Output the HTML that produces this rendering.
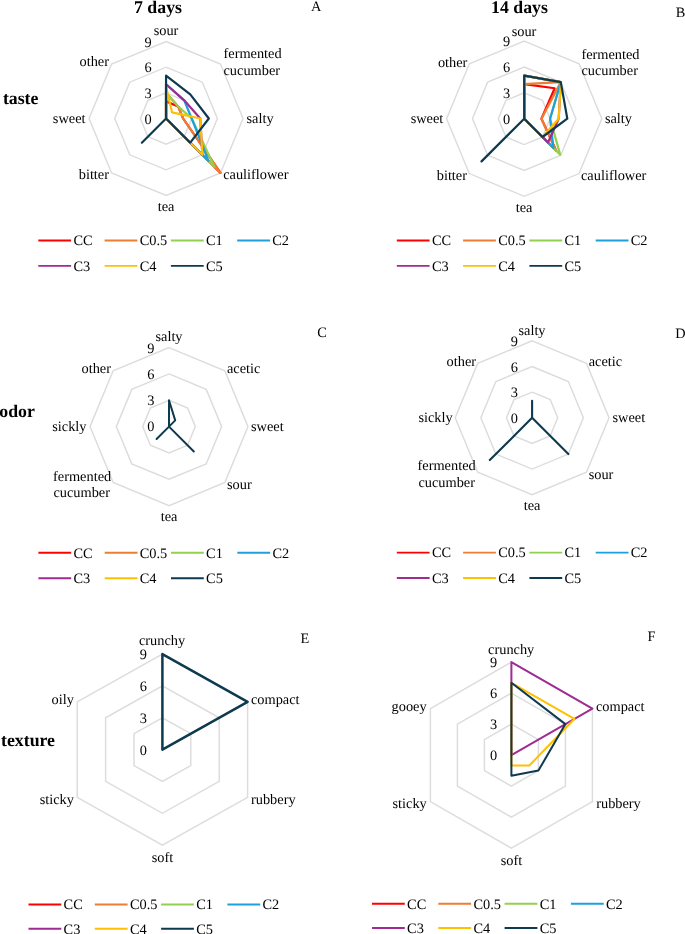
<!DOCTYPE html>
<html><head><meta charset="utf-8"><title>Sensory radar charts</title>
<style>html,body{margin:0;padding:0;background:#fff;overflow:hidden;}svg{display:block;will-change:transform;}text{text-rendering:geometricPrecision;}text{font-family:"Liberation Serif",serif;fill:#000;}</style></head><body>
<svg width="685" height="934" viewBox="0 0 685 934">
<rect width="685" height="934" fill="#ffffff"/>
<g>
<polygon points="166.05,92.83 184.20,100.35 191.72,118.50 184.20,136.65 166.05,144.17 147.90,136.65 140.38,118.50 147.90,100.35" fill="none" stroke="#dcdcdc" stroke-width="1.45"/>
<polygon points="166.05,67.17 202.35,82.20 217.38,118.50 202.35,154.80 166.05,169.83 129.75,154.80 114.72,118.50 129.75,82.20" fill="none" stroke="#dcdcdc" stroke-width="1.45"/>
<polygon points="166.05,41.50 220.50,64.05 243.05,118.50 220.50,172.95 166.05,195.50 111.60,172.95 89.05,118.50 111.60,64.05" fill="none" stroke="#dcdcdc" stroke-width="1.45"/>
<polygon points="166.05,101.39 178.15,106.40 183.16,118.50 220.50,172.95 166.05,118.50 166.05,118.50 166.05,118.50 166.05,118.50" fill="none" stroke="#ff0000" stroke-width="2.2" stroke-linejoin="round"/>
<polygon points="166.05,92.83 178.15,106.40 183.16,118.50 220.50,172.95 166.05,118.50 166.05,118.50 166.05,118.50 166.05,118.50" fill="none" stroke="#ed7d31" stroke-width="2.2" stroke-linejoin="round"/>
<polygon points="166.05,92.83 178.15,106.40 191.72,118.50 214.45,166.90 166.05,118.50 166.05,118.50 166.05,118.50 166.05,118.50" fill="none" stroke="#92d050" stroke-width="2.2" stroke-linejoin="round"/>
<polygon points="166.05,84.28 184.20,100.35 191.72,118.50 208.40,160.85 166.05,118.50 166.05,118.50 166.05,118.50 166.05,118.50" fill="none" stroke="#1ea0dc" stroke-width="2.2" stroke-linejoin="round"/>
<polygon points="166.05,84.28 184.20,100.35 200.27,118.50 202.35,154.80 166.05,118.50 166.05,118.50 166.05,118.50 166.05,118.50" fill="none" stroke="#a02b93" stroke-width="2.2" stroke-linejoin="round"/>
<polygon points="166.05,86.84 172.10,112.45 200.27,118.50 202.35,154.80 166.05,118.50 166.05,118.50 166.05,118.50 166.05,118.50" fill="none" stroke="#ffc000" stroke-width="2.2" stroke-linejoin="round"/>
<polygon points="166.05,75.72 190.25,94.30 208.83,118.50 190.25,142.70 166.05,118.50 141.85,142.70 166.05,118.50 166.05,118.50" fill="none" stroke="#0e3a4f" stroke-width="2.2" stroke-linejoin="round"/>
<text x="166" y="34.9" text-anchor="middle" font-size="14.35">sour</text>
<text x="223.5" y="58.0" text-anchor="start" font-size="14.35">fermented</text>
<text x="223.5" y="75.0" text-anchor="start" font-size="14.35">cucumber</text>
<text x="246.5" y="122.8" text-anchor="start" font-size="14.35">salty</text>
<text x="223.2" y="179.3" text-anchor="start" font-size="14.35">cauliflower</text>
<text x="166" y="211" text-anchor="middle" font-size="14.35">tea</text>
<text x="109" y="179.2" text-anchor="end" font-size="14.35">bitter</text>
<text x="85.5" y="123" text-anchor="end" font-size="14.35">sweet</text>
<text x="109" y="66" text-anchor="end" font-size="14.35">other</text>
<text x="151.6" y="123.5" text-anchor="end" font-size="14.35">0</text>
<text x="151.6" y="97.9" text-anchor="end" font-size="14.35">3</text>
<text x="151.6" y="72.2" text-anchor="end" font-size="14.35">6</text>
<text x="151.6" y="46.6" text-anchor="end" font-size="14.35">9</text>
<line x1="38.3" y1="240.5" x2="71.1" y2="240.5" stroke="#ff0000" stroke-width="1.9"/>
<text x="73.4" y="245.3" font-size="14.35">CC</text>
<line x1="104.6" y1="240.5" x2="137.4" y2="240.5" stroke="#ed7d31" stroke-width="1.9"/>
<text x="139.7" y="245.3" font-size="14.35">C0.5</text>
<line x1="170.9" y1="240.5" x2="203.7" y2="240.5" stroke="#92d050" stroke-width="1.9"/>
<text x="206.0" y="245.3" font-size="14.35">C1</text>
<line x1="237.2" y1="240.5" x2="270.0" y2="240.5" stroke="#1ea0dc" stroke-width="1.9"/>
<text x="272.3" y="245.3" font-size="14.35">C2</text>
<line x1="38.3" y1="265.9" x2="71.1" y2="265.9" stroke="#a02b93" stroke-width="1.9"/>
<text x="73.4" y="270.7" font-size="14.35">C3</text>
<line x1="104.6" y1="265.9" x2="137.4" y2="265.9" stroke="#ffc000" stroke-width="1.9"/>
<text x="139.7" y="270.7" font-size="14.35">C4</text>
<line x1="170.9" y1="265.9" x2="203.7" y2="265.9" stroke="#0e3a4f" stroke-width="1.9"/>
<text x="206.0" y="270.7" font-size="14.35">C5</text>
</g>
<g>
<polygon points="524.20,92.83 542.49,100.41 550.07,118.70 542.49,136.99 524.20,144.57 505.91,136.99 498.33,118.70 505.91,100.41" fill="none" stroke="#dcdcdc" stroke-width="1.45"/>
<polygon points="524.20,66.97 560.78,82.12 575.93,118.70 560.78,155.28 524.20,170.43 487.62,155.28 472.47,118.70 487.62,82.12" fill="none" stroke="#dcdcdc" stroke-width="1.45"/>
<polygon points="524.20,41.10 579.07,63.83 601.80,118.70 579.07,173.57 524.20,196.30 469.33,173.57 446.60,118.70 469.33,63.83" fill="none" stroke="#dcdcdc" stroke-width="1.45"/>
<polygon points="524.20,84.21 554.68,88.22 541.44,118.70 556.21,150.71 524.20,118.70 524.20,118.70 524.20,118.70 524.20,118.70" fill="none" stroke="#ff0000" stroke-width="2.2" stroke-linejoin="round"/>
<polygon points="524.20,84.21 560.78,82.12 541.44,118.70 556.21,150.71 524.20,118.70 524.20,118.70 524.20,118.70 524.20,118.70" fill="none" stroke="#ed7d31" stroke-width="2.2" stroke-linejoin="round"/>
<polygon points="524.20,75.59 560.78,82.12 550.07,118.70 560.17,154.67 524.20,118.70 524.20,118.70 524.20,118.70 524.20,118.70" fill="none" stroke="#92d050" stroke-width="2.2" stroke-linejoin="round"/>
<polygon points="524.20,75.59 560.78,82.12 550.07,118.70 553.46,147.96 524.20,118.70 524.20,118.70 524.20,118.70 524.20,118.70" fill="none" stroke="#1ea0dc" stroke-width="2.2" stroke-linejoin="round"/>
<polygon points="524.20,75.59 560.78,82.12 558.69,118.70 547.98,142.48 524.20,118.70 524.20,118.70 524.20,118.70 524.20,118.70" fill="none" stroke="#a02b93" stroke-width="2.2" stroke-linejoin="round"/>
<polygon points="524.20,75.59 560.78,82.12 558.69,118.70 542.49,136.99 524.20,118.70 524.20,118.70 524.20,118.70 524.20,118.70" fill="none" stroke="#ffc000" stroke-width="2.2" stroke-linejoin="round"/>
<polygon points="524.20,75.59 560.78,82.12 567.31,118.70 542.49,136.99 524.20,118.70 481.52,161.38 524.20,118.70 524.20,118.70" fill="none" stroke="#0e3a4f" stroke-width="2.2" stroke-linejoin="round"/>
<text x="524" y="35.5" text-anchor="middle" font-size="14.35">sour</text>
<text x="581.4" y="58.6" text-anchor="start" font-size="14.35">fermented</text>
<text x="581.4" y="75.4" text-anchor="start" font-size="14.35">cucumber</text>
<text x="604.9" y="123" text-anchor="start" font-size="14.35">salty</text>
<text x="581" y="179.9" text-anchor="start" font-size="14.35">cauliflower</text>
<text x="524" y="212" text-anchor="middle" font-size="14.35">tea</text>
<text x="467" y="180.2" text-anchor="end" font-size="14.35">bitter</text>
<text x="443.3" y="123.2" text-anchor="end" font-size="14.35">sweet</text>
<text x="467.4" y="66.8" text-anchor="end" font-size="14.35">other</text>
<text x="510.2" y="123.8" text-anchor="end" font-size="14.35">0</text>
<text x="510.2" y="98" text-anchor="end" font-size="14.35">3</text>
<text x="510.2" y="72.2" text-anchor="end" font-size="14.35">6</text>
<text x="510.2" y="46.4" text-anchor="end" font-size="14.35">9</text>
<line x1="396.8" y1="240.5" x2="429.6" y2="240.5" stroke="#ff0000" stroke-width="1.9"/>
<text x="431.9" y="245.3" font-size="14.35">CC</text>
<line x1="463.1" y1="240.5" x2="495.9" y2="240.5" stroke="#ed7d31" stroke-width="1.9"/>
<text x="498.2" y="245.3" font-size="14.35">C0.5</text>
<line x1="529.4" y1="240.5" x2="562.2" y2="240.5" stroke="#92d050" stroke-width="1.9"/>
<text x="564.5" y="245.3" font-size="14.35">C1</text>
<line x1="595.7" y1="240.5" x2="628.5" y2="240.5" stroke="#1ea0dc" stroke-width="1.9"/>
<text x="630.8" y="245.3" font-size="14.35">C2</text>
<line x1="396.8" y1="265.9" x2="429.6" y2="265.9" stroke="#a02b93" stroke-width="1.9"/>
<text x="431.9" y="270.7" font-size="14.35">C3</text>
<line x1="463.1" y1="265.9" x2="495.9" y2="265.9" stroke="#ffc000" stroke-width="1.9"/>
<text x="498.2" y="270.7" font-size="14.35">C4</text>
<line x1="529.4" y1="265.9" x2="562.2" y2="265.9" stroke="#0e3a4f" stroke-width="1.9"/>
<text x="564.5" y="270.7" font-size="14.35">C5</text>
</g>
<g>
<polygon points="169.00,400.27 187.62,407.98 195.33,426.60 187.62,445.22 169.00,452.93 150.38,445.22 142.67,426.60 150.38,407.98" fill="none" stroke="#dcdcdc" stroke-width="1.45"/>
<polygon points="169.00,373.93 206.24,389.36 221.67,426.60 206.24,463.84 169.00,479.27 131.76,463.84 116.33,426.60 131.76,389.36" fill="none" stroke="#dcdcdc" stroke-width="1.45"/>
<polygon points="169.00,347.60 224.86,370.74 248.00,426.60 224.86,482.46 169.00,505.60 113.14,482.46 90.00,426.60 113.14,370.74" fill="none" stroke="#dcdcdc" stroke-width="1.45"/>
<polygon points="169.00,400.27 175.21,420.39 169.00,426.60 193.83,451.43 169.00,426.60 156.59,439.01 169.00,426.60 169.00,426.60" fill="none" stroke="#0e3a4f" stroke-width="2.0" stroke-linejoin="round"/>
<text x="169" y="340.5" text-anchor="middle" font-size="14.35">salty</text>
<text x="227" y="373.2" text-anchor="start" font-size="14.35">acetic</text>
<text x="251" y="430.5" text-anchor="start" font-size="14.35">sweet</text>
<text x="227" y="488.5" text-anchor="start" font-size="14.35">sour</text>
<text x="169" y="520.7" text-anchor="middle" font-size="14.35">tea</text>
<text x="111.2" y="480.7" text-anchor="end" font-size="14.35">fermented</text>
<text x="110" y="497.2" text-anchor="end" font-size="14.35">cucumber</text>
<text x="86.5" y="431" text-anchor="end" font-size="14.35">sickly</text>
<text x="111" y="373.2" text-anchor="end" font-size="14.35">other</text>
<text x="154.4" y="430.5" text-anchor="end" font-size="14.35">0</text>
<text x="154.4" y="404.5" text-anchor="end" font-size="14.35">3</text>
<text x="154.4" y="378.5" text-anchor="end" font-size="14.35">6</text>
<text x="154.4" y="352.5" text-anchor="end" font-size="14.35">9</text>
<line x1="38.4" y1="552.8" x2="71.2" y2="552.8" stroke="#ff0000" stroke-width="1.9"/>
<text x="73.5" y="557.6" font-size="14.35">CC</text>
<line x1="104.7" y1="552.8" x2="137.5" y2="552.8" stroke="#ed7d31" stroke-width="1.9"/>
<text x="139.8" y="557.6" font-size="14.35">C0.5</text>
<line x1="171.0" y1="552.8" x2="203.8" y2="552.8" stroke="#92d050" stroke-width="1.9"/>
<text x="206.1" y="557.6" font-size="14.35">C1</text>
<line x1="237.3" y1="552.8" x2="270.1" y2="552.8" stroke="#1ea0dc" stroke-width="1.9"/>
<text x="272.4" y="557.6" font-size="14.35">C2</text>
<line x1="38.4" y1="578.2" x2="71.2" y2="578.2" stroke="#a02b93" stroke-width="1.9"/>
<text x="73.5" y="583.0" font-size="14.35">C3</text>
<line x1="104.7" y1="578.2" x2="137.5" y2="578.2" stroke="#ffc000" stroke-width="1.9"/>
<text x="139.8" y="583.0" font-size="14.35">C4</text>
<line x1="171.0" y1="578.2" x2="203.8" y2="578.2" stroke="#0e3a4f" stroke-width="1.9"/>
<text x="206.1" y="583.0" font-size="14.35">C5</text>
</g>
<g>
<polygon points="532.10,392.17 550.23,399.67 557.73,417.80 550.23,435.93 532.10,443.43 513.97,435.93 506.47,417.80 513.97,399.67" fill="none" stroke="#dcdcdc" stroke-width="1.45"/>
<polygon points="532.10,366.53 568.35,381.55 583.37,417.80 568.35,454.05 532.10,469.07 495.85,454.05 480.83,417.80 495.85,381.55" fill="none" stroke="#dcdcdc" stroke-width="1.45"/>
<polygon points="532.10,340.90 586.48,363.42 609.00,417.80 586.48,472.18 532.10,494.70 477.72,472.18 455.20,417.80 477.72,363.42" fill="none" stroke="#dcdcdc" stroke-width="1.45"/>
<polygon points="532.10,400.71 532.10,417.80 532.10,417.80 568.35,454.05 532.10,417.80 489.81,460.09 532.10,417.80 532.10,417.80" fill="none" stroke="#0e3a4f" stroke-width="2.1" stroke-linejoin="round"/>
<text x="532" y="334.7" text-anchor="middle" font-size="14.35">salty</text>
<text x="588.7" y="366" text-anchor="start" font-size="14.35">acetic</text>
<text x="612.5" y="422.4" text-anchor="start" font-size="14.35">sweet</text>
<text x="588.7" y="478.7" text-anchor="start" font-size="14.35">sour</text>
<text x="532" y="509.7" text-anchor="middle" font-size="14.35">tea</text>
<text x="475.7" y="469.8" text-anchor="end" font-size="14.35">fermented</text>
<text x="475" y="486.5" text-anchor="end" font-size="14.35">cucumber</text>
<text x="452.7" y="422" text-anchor="end" font-size="14.35">sickly</text>
<text x="476.1" y="366" text-anchor="end" font-size="14.35">other</text>
<text x="518" y="422.5" text-anchor="end" font-size="14.35">0</text>
<text x="518" y="397.2" text-anchor="end" font-size="14.35">3</text>
<text x="518" y="372" text-anchor="end" font-size="14.35">6</text>
<text x="518" y="346.2" text-anchor="end" font-size="14.35">9</text>
<line x1="396.8" y1="552.6" x2="429.6" y2="552.6" stroke="#ff0000" stroke-width="1.9"/>
<text x="431.9" y="557.4" font-size="14.35">CC</text>
<line x1="463.1" y1="552.6" x2="495.9" y2="552.6" stroke="#ed7d31" stroke-width="1.9"/>
<text x="498.2" y="557.4" font-size="14.35">C0.5</text>
<line x1="529.4" y1="552.6" x2="562.2" y2="552.6" stroke="#92d050" stroke-width="1.9"/>
<text x="564.5" y="557.4" font-size="14.35">C1</text>
<line x1="595.7" y1="552.6" x2="628.5" y2="552.6" stroke="#1ea0dc" stroke-width="1.9"/>
<text x="630.8" y="557.4" font-size="14.35">C2</text>
<line x1="396.8" y1="578.0" x2="429.6" y2="578.0" stroke="#a02b93" stroke-width="1.9"/>
<text x="431.9" y="582.8" font-size="14.35">C3</text>
<line x1="463.1" y1="578.0" x2="495.9" y2="578.0" stroke="#ffc000" stroke-width="1.9"/>
<text x="498.2" y="582.8" font-size="14.35">C4</text>
<line x1="529.4" y1="578.0" x2="562.2" y2="578.0" stroke="#0e3a4f" stroke-width="1.9"/>
<text x="564.5" y="582.8" font-size="14.35">C5</text>
</g>
<g>
<polygon points="162.40,717.77 190.80,733.68 190.80,765.52 162.40,781.43 134.00,765.52 134.00,733.68" fill="none" stroke="#dcdcdc" stroke-width="1.45"/>
<polygon points="162.40,685.93 219.20,717.77 219.20,781.43 162.40,813.27 105.60,781.43 105.60,717.77" fill="none" stroke="#dcdcdc" stroke-width="1.45"/>
<polygon points="162.40,654.10 247.60,701.85 247.60,797.35 162.40,845.10 77.20,797.35 77.20,701.85" fill="none" stroke="#dcdcdc" stroke-width="1.45"/>
<polygon points="162.40,654.10 247.60,701.85 162.40,749.60 162.40,749.60 162.40,749.60 162.40,749.60" fill="none" stroke="#0e3a4f" stroke-width="2.5" stroke-linejoin="round"/>
<text x="162" y="645" text-anchor="middle" font-size="14.35">crunchy</text>
<text x="251" y="703.7" text-anchor="start" font-size="14.35">compact</text>
<text x="251" y="804.1" text-anchor="start" font-size="14.35">rubbery</text>
<text x="162.4" y="862" text-anchor="middle" font-size="14.35">soft</text>
<text x="73.9" y="804.1" text-anchor="end" font-size="14.35">sticky</text>
<text x="73.9" y="703.7" text-anchor="end" font-size="14.35">oily</text>
<text x="146.8" y="754.8" text-anchor="end" font-size="14.35">0</text>
<text x="146.8" y="722.9" text-anchor="end" font-size="14.35">3</text>
<text x="146.8" y="690.8" text-anchor="end" font-size="14.35">6</text>
<text x="146.8" y="658.8" text-anchor="end" font-size="14.35">9</text>
<line x1="28.5" y1="904.5" x2="61.3" y2="904.5" stroke="#ff0000" stroke-width="1.9"/>
<text x="63.6" y="909.3" font-size="14.35">CC</text>
<line x1="94.8" y1="904.5" x2="127.6" y2="904.5" stroke="#ed7d31" stroke-width="1.9"/>
<text x="129.9" y="909.3" font-size="14.35">C0.5</text>
<line x1="161.1" y1="904.5" x2="193.9" y2="904.5" stroke="#92d050" stroke-width="1.9"/>
<text x="196.2" y="909.3" font-size="14.35">C1</text>
<line x1="227.4" y1="904.5" x2="260.2" y2="904.5" stroke="#1ea0dc" stroke-width="1.9"/>
<text x="262.5" y="909.3" font-size="14.35">C2</text>
<line x1="28.5" y1="928.7" x2="61.3" y2="928.7" stroke="#a02b93" stroke-width="1.9"/>
<text x="63.6" y="933.5" font-size="14.35">C3</text>
<line x1="94.8" y1="928.7" x2="127.6" y2="928.7" stroke="#ffc000" stroke-width="1.9"/>
<text x="129.9" y="933.5" font-size="14.35">C4</text>
<line x1="161.1" y1="928.7" x2="193.9" y2="928.7" stroke="#0e3a4f" stroke-width="1.9"/>
<text x="196.2" y="933.5" font-size="14.35">C5</text>
</g>
<g>
<polygon points="511.40,724.10 538.40,739.60 538.40,770.60 511.40,786.10 484.40,770.60 484.40,739.60" fill="none" stroke="#dcdcdc" stroke-width="1.45"/>
<polygon points="511.40,693.10 565.40,724.10 565.40,786.10 511.40,817.10 457.40,786.10 457.40,724.10" fill="none" stroke="#dcdcdc" stroke-width="1.45"/>
<polygon points="511.40,662.10 592.40,708.60 592.40,801.60 511.40,848.10 430.40,801.60 430.40,708.60" fill="none" stroke="#dcdcdc" stroke-width="1.45"/>
<polygon points="511.40,662.10 592.40,708.60 511.40,755.10 511.40,755.10 511.40,755.10 511.40,755.10" fill="none" stroke="#a02b93" stroke-width="2.0" stroke-linejoin="round"/>
<polygon points="511.40,682.77 574.40,718.93 529.40,765.43 511.40,765.43 511.40,755.10 511.40,755.10" fill="none" stroke="#ffc000" stroke-width="2.0" stroke-linejoin="round"/>
<polygon points="511.40,682.77 565.40,724.10 538.40,770.60 511.40,775.77 511.40,755.10 511.40,755.10" fill="none" stroke="#0e3a4f" stroke-width="2.0" stroke-linejoin="round"/>
<text x="511.2" y="653.8" text-anchor="middle" font-size="14.35">crunchy</text>
<text x="596" y="711.4" text-anchor="start" font-size="14.35">compact</text>
<text x="596.2" y="808" text-anchor="start" font-size="14.35">rubbery</text>
<text x="511.5" y="865" text-anchor="middle" font-size="14.35">soft</text>
<text x="426.8" y="808" text-anchor="end" font-size="14.35">sticky</text>
<text x="426.6" y="711.3" text-anchor="end" font-size="14.35">gooey</text>
<text x="497.2" y="759.6" text-anchor="end" font-size="14.35">0</text>
<text x="497.2" y="728.6" text-anchor="end" font-size="14.35">3</text>
<text x="497.2" y="697.6" text-anchor="end" font-size="14.35">6</text>
<text x="497.2" y="666.5" text-anchor="end" font-size="14.35">9</text>
<line x1="372.0" y1="903.7" x2="404.8" y2="903.7" stroke="#ff0000" stroke-width="1.9"/>
<text x="407.1" y="908.5" font-size="14.35">CC</text>
<line x1="438.3" y1="903.7" x2="471.1" y2="903.7" stroke="#ed7d31" stroke-width="1.9"/>
<text x="473.4" y="908.5" font-size="14.35">C0.5</text>
<line x1="504.6" y1="903.7" x2="537.4" y2="903.7" stroke="#92d050" stroke-width="1.9"/>
<text x="539.7" y="908.5" font-size="14.35">C1</text>
<line x1="570.9" y1="903.7" x2="603.7" y2="903.7" stroke="#1ea0dc" stroke-width="1.9"/>
<text x="606.0" y="908.5" font-size="14.35">C2</text>
<line x1="372.0" y1="928.0" x2="404.8" y2="928.0" stroke="#a02b93" stroke-width="1.9"/>
<text x="407.1" y="932.8" font-size="14.35">C3</text>
<line x1="438.3" y1="928.0" x2="471.1" y2="928.0" stroke="#ffc000" stroke-width="1.9"/>
<text x="473.4" y="932.8" font-size="14.35">C4</text>
<line x1="504.6" y1="928.0" x2="537.4" y2="928.0" stroke="#0e3a4f" stroke-width="1.9"/>
<text x="539.7" y="932.8" font-size="14.35">C5</text>
</g>
<text x="158" y="12.6" text-anchor="middle" font-size="17.8" font-weight="bold">7 days</text>
<text x="519.5" y="12.5" text-anchor="middle" font-size="17.8" font-weight="bold">14 days</text>
<text x="2.9" y="104.1" text-anchor="start" font-size="17.8" font-weight="bold">taste</text>
<text x="-0.7" y="416.7" text-anchor="start" font-size="17.8" font-weight="bold">odor</text>
<text x="1" y="746.1" text-anchor="start" font-size="17.8" font-weight="bold">texture</text>
<text x="311" y="11" text-anchor="start" font-size="14.35" font-weight="normal">A</text>
<text x="675.7" y="17.2" text-anchor="start" font-size="14.35" font-weight="normal">B</text>
<text x="317.2" y="337.2" text-anchor="start" font-size="14.35" font-weight="normal">C</text>
<text x="675.3" y="337.8" text-anchor="start" font-size="14.35" font-weight="normal">D</text>
<text x="300.6" y="642.8" text-anchor="start" font-size="14.35" font-weight="normal">E</text>
<text x="647.4" y="640.8" text-anchor="start" font-size="14.35" font-weight="normal">F</text>
</svg></body></html>
